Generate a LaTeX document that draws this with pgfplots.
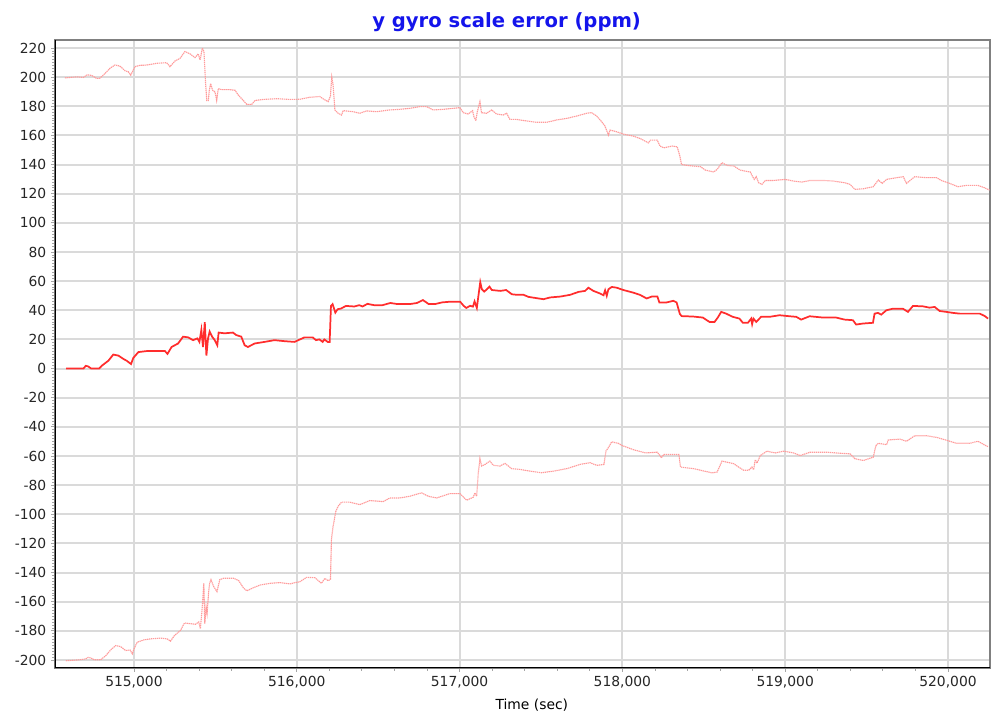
\documentclass[border=0pt]{standalone}
\usepackage{pgfplots}
\pgfplotsset{compat=1.18}
\usepackage{fontspec}
\setmainfont{DejaVu Sans}

\definecolor{limitpink}{RGB}{255,155,155}
\definecolor{estred}{RGB}{255,45,45}
\definecolor{gridgray}{RGB}{218,218,218}
\definecolor{titleblue}{RGB}{20,20,235}

\begin{document}
\begin{tikzpicture}
  \begin{axis}[
      scale only axis,
      width=701.25pt, height=471pt,
      xmin=514515, xmax=520258,
      ymin=-205.5, ymax=225.5,
      xtick={515000,516000,517000,518000,519000,520000},
      ytick={-200,-180,...,220},
      minor x tick num=4,
      minor y tick num=9,
      xtick pos=bottom, ytick pos=left,
      tick align=outside,
      major tick length=3pt, minor tick length=2pt,
      tick style={gray!70, line width=0.6pt},
      xmajorgrids, ymajorgrids,
      grid style={gridgray, line width=1.5pt},
      axis line style={gray, line width=1pt},
      /pgf/number format/assume math mode=true,
      x tick label style={/pgf/number format/.cd, 1000 sep={,}, fixed},
      y tick label style={/pgf/number format/.cd, 1000 sep={}},
      scaled x ticks=false,
      tick label style={font=\fontsize{10.4}{12}\selectfont, text=black!85},
      title={y gyro scale error (ppm)},
      title style={at={(0.483,1)}, anchor=base, yshift=3pt,
        font=\fontsize{14.7}{17}\selectfont\bfseries, text=titleblue},
      xlabel={Time (sec)},
      xlabel style={at={(0.51,0)}, anchor=base, yshift=-31.5pt,
        font=\fontsize{10.4}{12}\selectfont},
    ]
    % upper bound
    \addplot[limitpink, dash pattern=on 1pt off 0.5pt, line width=0.85pt] coordinates {
      (514576,199.5)(514648,200.2)(514689,199.8)(514713,201.6)(514740,201.2)(514771,199.1)(514791,199.3)(514822,202.5)(514852,206)(514883,208.3)(514914,207.6)(514945,204.4)(514965,203.7)(514980,201.4)(515006,207.2)(515037,208.1)(515078,208.3)(515139,209.5)(515201,209.9)(515221,207.2)(515252,211.1)(515283,212.9)(515313,217.6)(515344,216)(515375,213.4)(515395,216)(515406,211.8)(515420,219.9)(515430,217.6)(515440,195.6)(515447,184)(515457,184)(515463,191)(515471,195.6)(515483,191)(515498,189.8)(515508,184)(515518,192.1)(515539,191.4)(515590,191.4)(515621,191)(515642,187.5)(515672,184)(515693,181.3)(515723,181.3)(515744,184)(515795,184.7)(515877,185.2)(515959,184.7)(516019,184.8)(516080,186.2)(516141,186.7)(516172,184.4)(516193,183.2)(516207,187.1)(516215,200)(516223,194.7)(516234,177.5)(516254,175.2)(516275,174)(516285,177)(516346,176.3)(516387,175.2)(516428,176.8)(516490,176.3)(516572,177.5)(516633,177.9)(516695,178.6)(516756,179.8)(516797,179.8)(516838,177.5)(516900,177.9)(516961,178.6)(517002,179.1)(517023,175.6)(517053,174.7)(517080,177)(517088,172.9)(517100,170.1)(517109,176.3)(517125,183.2)(517135,175.6)(517166,175.2)(517197,177.5)(517227,174.7)(517268,174)(517289,175.2)(517309,171)(517350,171)(517412,169.9)(517473,169)(517535,169)(517596,170.6)(517658,171.7)(517719,173.3)(517781,175.2)(517811,175.6)(517842,173.3)(517873,169.4)(517893,166.4)(517904,163.2)(517914,160.2)(517924,163.7)(517965,162.5)(518006,160.9)(518068,159.5)(518109,157.9)(518160,154.9)(518173,156.8)(518214,156.8)(518231,152.7)(518255,151.5)(518306,152.7)(518337,152.2)(518353,145.8)(518363,140.1)(518398,139.4)(518480,138.5)(518510,136.2)(518561,134.9)(518582,136.7)(518612,141.3)(518643,139.4)(518684,139)(518724,136.2)(518755,135.5)(518786,134.9)(518796,132.6)(518810,129.8)(518822,131.7)(518837,127.5)(518857,126.4)(518878,129.1)(518929,129.1)(519000,129.8)(519051,128.7)(519102,128)(519153,129.1)(519235,129.1)(519296,128.7)(519367,127.5)(519398,126.4)(519429,123)(519480,123.4)(519541,124.8)(519572,129.4)(519596,127.1)(519623,129.8)(519684,131)(519725,131.7)(519745,127.1)(519796,131.7)(519867,131)(519929,131)(519959,129.1)(520010,127.1)(520061,124.8)(520112,125.7)(520184,125.7)(520224,124.1)(520255,122.5)
    };
    % lower bound
    \addplot[limitpink, dash pattern=on 1pt off 0.5pt, line width=0.85pt] coordinates {
      (514582,-200.5)(514653,-200)(514704,-199.3)(514718,-198.2)(514735,-198.6)(514755,-199.8)(514796,-199.8)(514827,-197)(514857,-193.1)(514888,-190.1)(514918,-190.8)(514949,-193.5)(514976,-193.1)(514990,-195.8)(515000,-192.4)(515020,-187.8)(515061,-186.2)(515102,-185.5)(515163,-185)(515204,-185.5)(515224,-187.1)(515249,-183.2)(515286,-179.7)(515310,-174.6)(515347,-175.1)(515378,-175.5)(515398,-173.9)(515408,-178.5)(515418,-165.8)(515429,-147.4)(515435,-175.1)(515443,-163.5)(515449,-168.1)(515459,-153.1)(515465,-147.4)(515473,-144.9)(515490,-149.7)(515510,-153.1)(515527,-144.9)(515551,-143.9)(515612,-143.9)(515643,-145.5)(515674,-150.8)(515694,-152.5)(515725,-150.8)(515776,-148.5)(515837,-147.4)(515898,-146.9)(515959,-147.8)(515990,-146.9)(516019,-146.3)(516060,-143.3)(516111,-143.5)(516152,-147.4)(516172,-144)(516193,-145.6)(516207,-144.6)(516213,-117.5)(516223,-108.3)(516240,-98)(516254,-94.5)(516275,-91.7)(516326,-91.7)(516387,-93.4)(516449,-90.6)(516531,-91.3)(516572,-88.8)(516633,-88.8)(516695,-87.6)(516766,-85.3)(516807,-87.6)(516859,-88.8)(516941,-85.8)(517002,-85.8)(517023,-88.1)(517043,-90.4)(517084,-88.3)(517094,-85.3)(517105,-87.6)(517115,-71.5)(517125,-61.8)(517135,-66.9)(517156,-65.8)(517186,-63.5)(517207,-66.4)(517248,-66.9)(517279,-65.1)(517320,-68.7)(517371,-69.2)(517432,-70.4)(517504,-71.5)(517576,-70.4)(517658,-68.7)(517740,-65.8)(517801,-64.6)(517842,-66.4)(517887,-65.8)(517899,-56.6)(517914,-54.3)(517934,-50.3)(517975,-51.3)(518000,-52.9)(518071,-55.8)(518143,-57.9)(518214,-57.4)(518231,-59.7)(518239,-61.2)(518255,-59)(518347,-59)(518357,-67.6)(518439,-68.7)(518500,-70.3)(518551,-71.6)(518582,-71)(518612,-63.5)(518684,-65.3)(518714,-67.6)(518745,-69.8)(518776,-69.8)(518796,-67.6)(518806,-69.4)(518816,-62.6)(518827,-64.9)(518847,-59.7)(518888,-56.7)(518939,-57.9)(518990,-56.7)(519051,-57.9)(519092,-59.7)(519153,-57.4)(519255,-57.4)(519337,-58.1)(519398,-58.5)(519429,-61.9)(519480,-63.1)(519541,-60.8)(519557,-52.9)(519572,-51.3)(519623,-52.2)(519633,-49)(519704,-48.4)(519745,-49.9)(519796,-46.1)(519867,-46.1)(519929,-47.2)(520000,-49.5)(520051,-51.3)(520133,-51.3)(520184,-49.9)(520214,-51.8)(520245,-53.6)
    };
    % estimate
    \addplot[estred, line width=1.3pt] coordinates {
      (514584,0)(514690,0)(514704,1.9)(514720,1.4)(514737,0)(514786,0)(514802,1.9)(514843,5.4)(514873,9.6)(514904,8.9)(514935,6.6)(514955,5.4)(514982,3.1)(514996,7.3)(515027,11.3)(515078,12)(515190,12)(515206,10.1)(515231,14.8)(515271,17.2)(515302,21.9)(515333,21.4)(515363,19.5)(515390,20.7)(515402,18.3)(515414,26.6)(515424,14.8)(515435,31.9)(515445,8.9)(515455,20.7)(515465,25.4)(515480,21.9)(515496,19.5)(515512,16)(515520,24.7)(515557,24.2)(515608,24.7)(515628,23)(515659,21.9)(515680,16)(515700,14.8)(515741,17.2)(515802,18.3)(515863,19.5)(515925,18.8)(515986,18.3)(516047,21.4)(516098,21.4)(516118,19.5)(516139,20)(516159,18.3)(516169,20)(516190,18.3)(516202,18.3)(516210,43)(516220,44.2)(516237,38.4)(516251,40.7)(516272,41.2)(516302,43)(516353,42.6)(516384,43.5)(516404,42.6)(516434,44.4)(516475,43.5)(516526,43.5)(516575,45)(516616,44.3)(516697,44.3)(516738,45)(516775,47)(516810,44.3)(516851,44.3)(516892,45.4)(516933,45.8)(517004,45.8)(517025,43.1)(517041,41.6)(517065,43.1)(517082,42.5)(517092,46.1)(517106,41.6)(517117,51)(517127,59.3)(517137,54.4)(517151,52.8)(517168,54.4)(517184,56.2)(517198,53.9)(517250,53.3)(517286,53.9)(517321,51)(517352,50.6)(517393,50.6)(517423,49.2)(517474,48.3)(517515,47.6)(517556,48.8)(517618,49.4)(517679,50.6)(517730,52.6)(517771,53.3)(517791,55.5)(517822,53.3)(517863,51.5)(517884,50.3)(517894,53.7)(517904,49.9)(517914,54.4)(517935,56)(517965,55.5)(518006,53.9)(518067,52.1)(518108,50.6)(518149,48.1)(518180,49.4)(518215,49.4)(518227,45.4)(518272,45.4)(518313,46.5)(518333,45.4)(518353,37.5)(518364,36)(518435,35.7)(518494,35)(518535,32)(518566,32)(518586,35)(518607,38.9)(518637,37.7)(518678,35.5)(518719,34.3)(518740,31.4)(518771,31.4)(518791,34.3)(518797,30.5)(518805,34.3)(518822,32)(518852,35.5)(518904,35.5)(518965,36.6)(519027,35.9)(519068,35.5)(519098,33.6)(519150,35.9)(519232,35)(519313,35)(519365,33.6)(519416,33.2)(519436,30.2)(519477,30.9)(519539,31.4)(519549,37.7)(519570,38.2)(519590,37)(519621,40)(519662,41.1)(519723,41.1)(519754,38.9)(519785,43)(519846,42.7)(519887,41.8)(519918,42.3)(519949,39.5)(519990,38.9)(520031,38.2)(520072,37.7)(520133,37.7)(520195,37.7)(520225,36.1)(520246,34.3)
    };
    \draw[black, line width=1.5pt] (rel axis cs:0,1) -- (rel axis cs:0,0) -- (rel axis cs:1,0);
  \end{axis}
  \pgfresetboundingbox
  \path ([xshift=-41.25pt,yshift=-38.25pt]current axis.south west)
    rectangle ([xshift=1.5pt,yshift=30pt]current axis.north east);
\end{tikzpicture}
\end{document}
